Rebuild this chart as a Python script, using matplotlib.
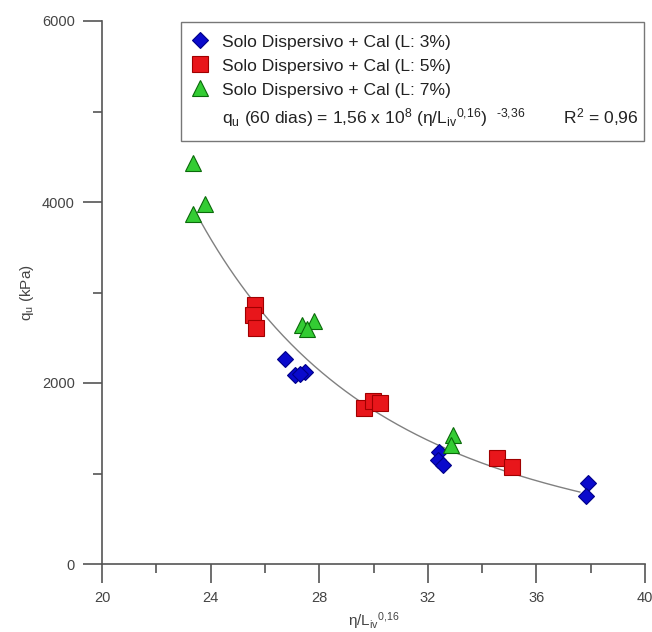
import numpy as np
import matplotlib
matplotlib.use("Agg")
import matplotlib.pyplot as plt
from matplotlib.lines import Line2D
from matplotlib.ticker import MultipleLocator

plt.rcParams["font.family"] = ["Liberation Sans", "DejaVu Sans"]
plt.rcParams["mathtext.fontset"] = "custom"
plt.rcParams["mathtext.rm"] = "Liberation Sans"
plt.rcParams["mathtext.it"] = "Liberation Sans:italic"

# --- data ---
x_l3 = [26.74, 27.10, 27.47, 27.28, 32.42, 32.37, 32.56, 37.90, 37.81]
y_l3 = [2265, 2088, 2125, 2100, 1241, 1149, 1094, 891, 751]

x_l5 = [25.63, 25.57, 25.67, 29.65, 29.97, 30.25, 34.55, 35.11]
y_l5 = [2862, 2751, 2604, 1724, 1800, 1775, 1168, 1068]

x_l7 = [23.36, 23.35, 23.79, 27.35, 27.80, 27.55, 32.92, 32.87]
y_l7 = [4431, 3867, 3978, 2641, 2688, 2600, 1425, 1315]

fit_a = 1.56e8
fit_b = -3.36
fit_x0, fit_x1 = 23.4, 37.6

labels = [
    "Solo Dispersivo + Cal (L: 3%)",
    "Solo Dispersivo + Cal (L: 5%)",
    "Solo Dispersivo + Cal (L: 7%)",
    "q$_\\mathregular{u}$ (60 dias) = 1,56 x 10$^\\mathregular{8}$ "
    "(η/L$_\\mathregular{iv}$$^\\mathregular{0{,}16}$)  "
    "$^\\mathregular{\u20103{,}36}$        R$^\\mathregular{2}$ = 0,96",
]

BLUE = dict(marker="D", ms=8, mfc="#0a0acc", mec="#000088", mew=0.8)
RED = dict(marker="s", ms=11, mfc="#e8161b", mec="#a00000", mew=0.8)
GREEN = dict(marker="^", ms=11, mfc="#33cc33", mec="#0a6a0a", mew=0.8)
AXC = "#555555"

fig = plt.figure(figsize=(6.52, 6.32), dpi=100)
ax = fig.add_axes([102 / 652, 1 - 564 / 632, (645 - 102) / 652, (564 - 21) / 632])

xf = np.linspace(fit_x0, fit_x1, 200)
ax.plot(xf, fit_a * xf ** fit_b, color="#808080", lw=1.0, zorder=2)

ax.plot(x_l3, y_l3, ls="none", zorder=3, **BLUE)
ax.plot(x_l5, y_l5, ls="none", zorder=3, **RED)
ax.plot(x_l7, y_l7, ls="none", zorder=3, **GREEN)

ax.set_xlim(20, 40)
ax.set_ylim(0, 6000)
ax.xaxis.set_major_locator(MultipleLocator(4))
ax.xaxis.set_minor_locator(MultipleLocator(2))
ax.yaxis.set_major_locator(MultipleLocator(2000))
ax.yaxis.set_minor_locator(MultipleLocator(1000))

for s in ["top", "right"]:
    ax.spines[s].set_visible(False)
for s in ["left", "bottom"]:
    ax.spines[s].set_color(AXC)
    ax.spines[s].set_linewidth(1.2)

ax.tick_params(which="major", direction="out", length=13.5, width=1.2,
               color=AXC, labelcolor="#444444", labelsize=10.5, pad=6)
ax.tick_params(which="minor", direction="out", length=6.5, width=1.2, color=AXC)

ax.set_xlabel("η/L$_\\mathregular{iv}$$^\\mathregular{0{,}16}$", fontsize=11,
              color="#444444", labelpad=4)
ax.set_ylabel("q$_\\mathregular{u}$ (kPa)", fontsize=11, color="#444444",
              labelpad=4)

handles = [
    Line2D([], [], ls="none", **BLUE),
    Line2D([], [], ls="none", **RED),
    Line2D([], [], ls="none", **GREEN),
    Line2D([], [], ls="none", marker=None),
]
# legend box spans a fixed width (mode="expand")
box_l, box_r, box_t = 181 / 652, 644 / 652, 1 - 22 / 632
leg = ax.legend(handles, labels, loc="upper left", mode="expand",
                bbox_to_anchor=(box_l, box_t - 0.01, box_r - box_l, 0.01),
                bbox_transform=fig.transFigure, borderaxespad=0,
                fontsize=12.6, frameon=True, fancybox=False, framealpha=1,
                edgecolor="#777777", borderpad=0.7, handlelength=0.76,
                handletextpad=0.88, labelspacing=0.5, labelcolor="#222222")
leg.get_frame().set_linewidth(1.0)

fig.savefig("out.png", dpi=100)
